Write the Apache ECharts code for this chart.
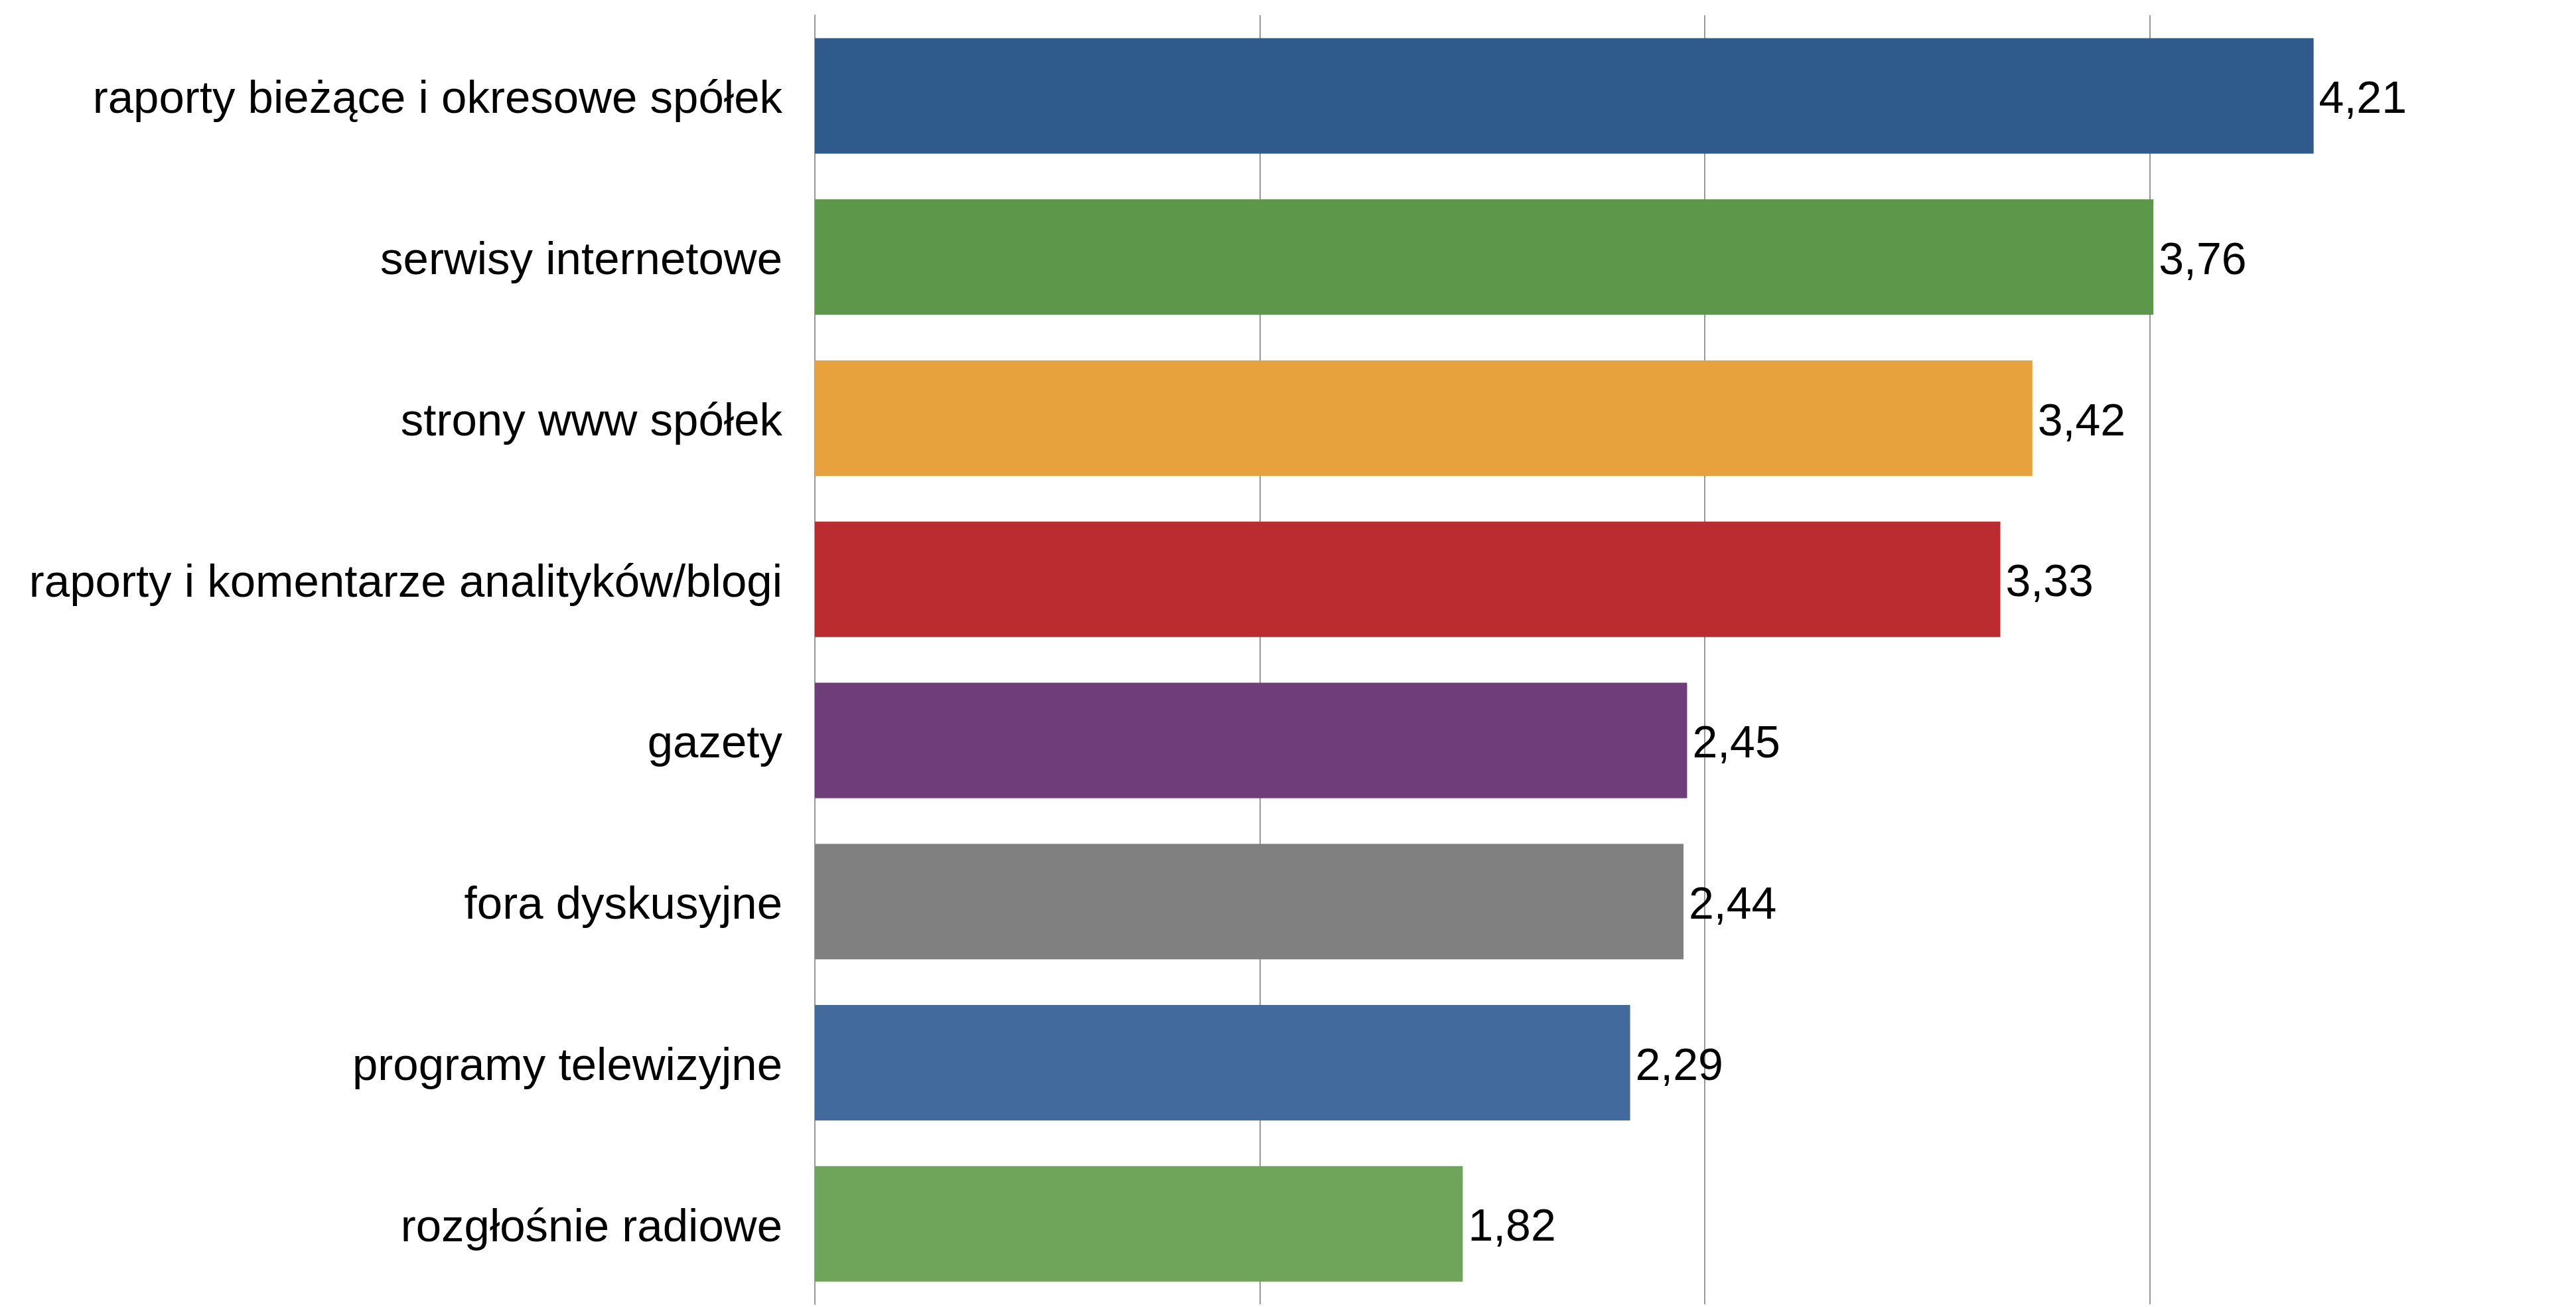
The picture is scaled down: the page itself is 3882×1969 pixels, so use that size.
<!DOCTYPE html>
<html>
<head>
<meta charset="utf-8">
<script src="https://cdn.jsdelivr.net/npm/echarts@6/dist/echarts.min.js"></script>
<style>
html,body{margin:0;padding:0;background:#fff;}
#chart{width:3882px;height:1969px;}
</style>
</head>
<body>
<div id="chart"></div>
<script>
const categories = [
  'raporty bieżące i okresowe spółek',
  'serwisy internetowe',
  'strony www spółek',
  'raporty i komentarze analityków/blogi',
  'gazety',
  'fora dyskusyjne',
  'programy telewizyjne',
  'rozgłośnie radiowe'
];
const values = [4.21, 3.76, 3.42, 3.33, 2.45, 2.44, 2.29, 1.82];
const barColors = ['#2E5A8C', '#5D974A', '#E7A23D', '#BB2C31', '#6E3D7A', '#7F807F', '#426A9C', '#6EA55B'];

const chart = echarts.init(document.getElementById('chart'));
chart.setOption({
  animation: false,
  backgroundColor: '#fff',
  grid: { left: 1228, top: 23, right: 0, height: 1942, containLabel: false },
  xAxis: {
    type: 'value',
    min: 0,
    max: 4.947,
    interval: 1.25,
    axisLabel: { show: false },
    axisLine: { show: false },
    axisTick: { show: false },
    splitLine: { show: true, showMaxLine: false, lineStyle: { color: '#999', width: 2 } }
  },
  yAxis: {
    type: 'category',
    data: categories,
    inverse: true,
    axisLine: { show: true, lineStyle: { color: '#999', width: 2 } },
    axisTick: { show: false },
    axisLabel: {
      margin: 49,
      verticalAlign: 'top',
      lineHeight: 14,
      fontFamily: 'Liberation Sans, Arial, sans-serif',
      fontSize: 69,
      color: '#000'
    }
  },
  series: [{
    type: 'bar',
    data: values.map((v, i) => ({ value: v, itemStyle: { color: barColors[i] } })),
    barWidth: 174,
    label: {
      show: true,
      position: 'right',
      distance: 8,
      offset: [0, 7],
      fontFamily: 'Liberation Sans, Arial, sans-serif',
      fontSize: 68,
      color: '#000',
      formatter: p => p.value.toFixed(2).replace('.', ',')
    }
  }]
});
</script>
</body>
</html>
